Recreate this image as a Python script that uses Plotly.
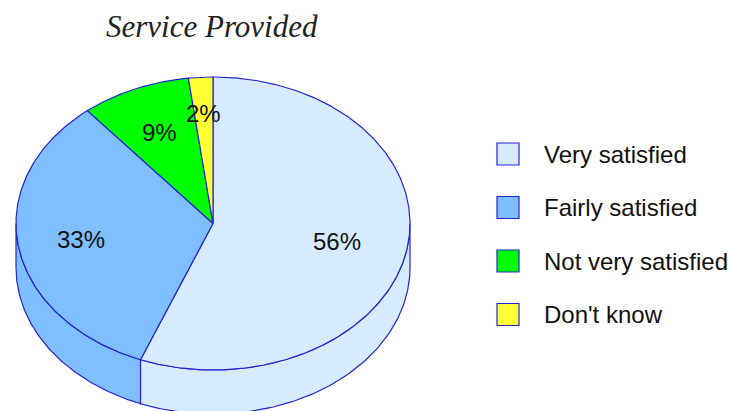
import numpy as np
import plotly.graph_objects as go

# ---- data ----
categories = ["Very satisfied", "Fairly satisfied", "Not very satisfied", "Don't know"]
values = [56, 33, 9, 2]
title_text = "Service Provided"

# ---- style ----
colors = ["#d7ebff", "#80bfff", "#00ff00", "#ffff33"]
edge = "#2424d0"
label_r = [0.64, 0.68, 0.68, 0.75]   # radial position of percentage labels
CX, CY, RX, RY, DEPTH = 213, 223.5, 197, 146.5, 44
W, H = 731, 411

def pt(theta, dy=0.0):
    t = np.radians(theta)
    return CX + RX * np.sin(t), CY - RY * np.cos(t) + dy

fig = go.Figure()
total = float(sum(values))
bounds = np.concatenate([[0], np.cumsum(values) / total * 360.0])

# side walls (front half only)
for i, v in enumerate(values):
    a, b = bounds[i], bounds[i + 1]
    lo, hi = max(a, 90.0), min(b, 270.0)
    if hi <= lo:
        continue
    th = np.linspace(lo, hi, 120)
    xt, yt = pt(th)
    xb, yb = pt(th[::-1], DEPTH)
    xs = np.concatenate([xt, xb, xt[:1]])
    ys = np.concatenate([yt, yb, yt[:1]])
    fig.add_trace(go.Scatter(x=xs, y=ys, mode="lines", fill="toself",
                             fillcolor=colors[i], line=dict(color=edge, width=1.2),
                             hoverinfo="skip", showlegend=False))

# top faces
for i, v in enumerate(values):
    a, b = bounds[i], bounds[i + 1]
    th = np.linspace(a, b, max(int((b - a) * 2), 8))
    xa, ya = pt(th)
    xs = np.concatenate([[CX], xa, [CX]])
    ys = np.concatenate([[CY], ya, [CY]])
    fig.add_trace(go.Scatter(x=xs, y=ys, mode="lines", fill="toself",
                             fillcolor=colors[i], line=dict(color=edge, width=1.2),
                             hoverinfo="skip", showlegend=False))

annotations = []
# percentage labels
for i, v in enumerate(values):
    mid = (bounds[i] + bounds[i + 1]) / 2.0
    t = np.radians(mid)
    x = CX + RX * label_r[i] * np.sin(t)
    y = CY - RY * label_r[i] * np.cos(t)
    annotations.append(dict(x=x, y=y, xref="x", yref="y", text=f"{v}%",
                            showarrow=False, xanchor="center", yanchor="middle",
                            font=dict(family="Liberation Sans, Arial", size=24, color="#111111")))

# legend (drawn manually)
shapes = []
LX0, LX1, LY0, LDY, BOX = 497, 519, 154, 53.5, 22
for i, c in enumerate(categories):
    yc = LY0 + i * LDY
    shapes.append(dict(type="rect", xref="x", yref="y", x0=LX0, x1=LX1,
                       y0=yc - BOX / 2, y1=yc + BOX / 2,
                       fillcolor=colors[i], line=dict(color=edge, width=1.2)))
    annotations.append(dict(x=542, y=yc, xref="x", yref="y", text=c, showarrow=False,
                            xanchor="left", yanchor="middle",
                            font=dict(family="Liberation Sans, Arial", size=24, color="#111111")))

# title
annotations.append(dict(x=212, y=26, xref="x", yref="y", text=f"<i>{title_text}</i>",
                        showarrow=False, xanchor="center", yanchor="middle",
                        font=dict(family="Liberation Serif, Times New Roman, serif", size=31,
                                  color="#222222")))

fig.update_layout(
    width=W, height=H, margin=dict(l=0, r=0, t=0, b=0),
    paper_bgcolor="white", plot_bgcolor="white",
    xaxis=dict(range=[0, W], visible=False, fixedrange=True),
    yaxis=dict(range=[H, 0], visible=False, fixedrange=True),
    showlegend=False, annotations=annotations, shapes=shapes,
)

fig.write_html("out.html", config={"displayModeBar": False},
               post_script="document.body.style.margin='0';document.body.style.overflow='hidden';")
